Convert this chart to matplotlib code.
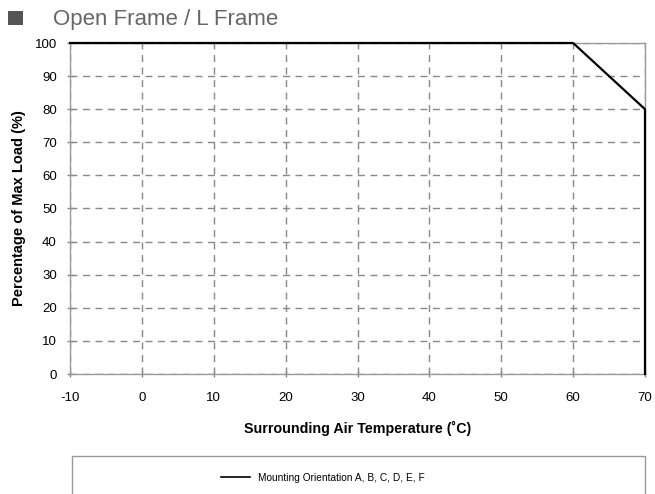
import matplotlib
matplotlib.use("Agg")
import matplotlib.pyplot as plt
from matplotlib.patches import Rectangle
from matplotlib.lines import Line2D

plt.rcParams['font.family'] = ['Liberation Sans', 'DejaVu Sans']
plt.rcParams['axes.unicode_minus'] = False

temps = [-10, 60, 70, 70]
loads = [100, 100, 80, 0]
xticks = [-10, 0, 10, 20, 30, 40, 50, 60, 70]
yticks = [0, 10, 20, 30, 40, 50, 60, 70, 80, 90, 100]
series_label = "Mounting Orientation A, B, C, D, E, F"
title = "Open Frame / L Frame"

W, H = 655, 494
fig = plt.figure(figsize=(W / 100, H / 100), dpi=100)
ax = fig.add_axes([70 / W, 1 - 374 / H, (645 - 70) / W, (374 - 43) / H])

ax.set_xlim(-10, 70)
ax.set_ylim(0, 100)
ax.set_xticks(xticks)
ax.set_yticks(yticks)
ax.grid(True, color='#888888', linestyle=(0, (5, 4)), linewidth=1.0)
ax.set_axisbelow(True)
for s in ax.spines.values():
    s.set_color('#999999')
    s.set_linewidth(1.0)
ax.tick_params(axis='both', colors='#888888', labelcolor='black', labelsize=9.5,
               length=5, width=1, direction='inout')
ax.tick_params(axis='x', pad=10.5)
ax.tick_params(axis='y', pad=7)

ax.plot(temps, loads, color='black', linewidth=1.6, clip_on=False, zorder=5)

ax.set_xlabel("Surrounding Air Temperature (\u02daC)", fontsize=10.3, fontweight='bold', labelpad=12)
ax.set_ylabel("Percentage of Max Load (%)", fontsize=10.5, fontweight='bold', labelpad=6)

# title
sq = Rectangle((8 / W, 1 - 25 / H), 15 / W, 14 / H, transform=fig.transFigure,
               facecolor='#555555', edgecolor='none')
fig.patches.append(sq)
fig.text(53 / W, 1 - 19 / H, title, fontsize=16, color='#666666', va='center', ha='left')

# legend box
rect = Rectangle((72 / W, -0.05), (645 - 72) / W, 0.05 + (494 - 456) / H,
                 transform=fig.transFigure, fill=False, edgecolor='#999999', linewidth=1.0)
fig.patches.append(rect)
handle = Line2D([], [], color='black', linewidth=1.2)
fig.legend([handle], [series_label], loc='center', bbox_to_anchor=(323 / W, 1 - 478 / H),
           frameon=False, fontsize=7.3, handlelength=2.8, handletextpad=0.8)

fig.savefig("out.png", dpi=100)
